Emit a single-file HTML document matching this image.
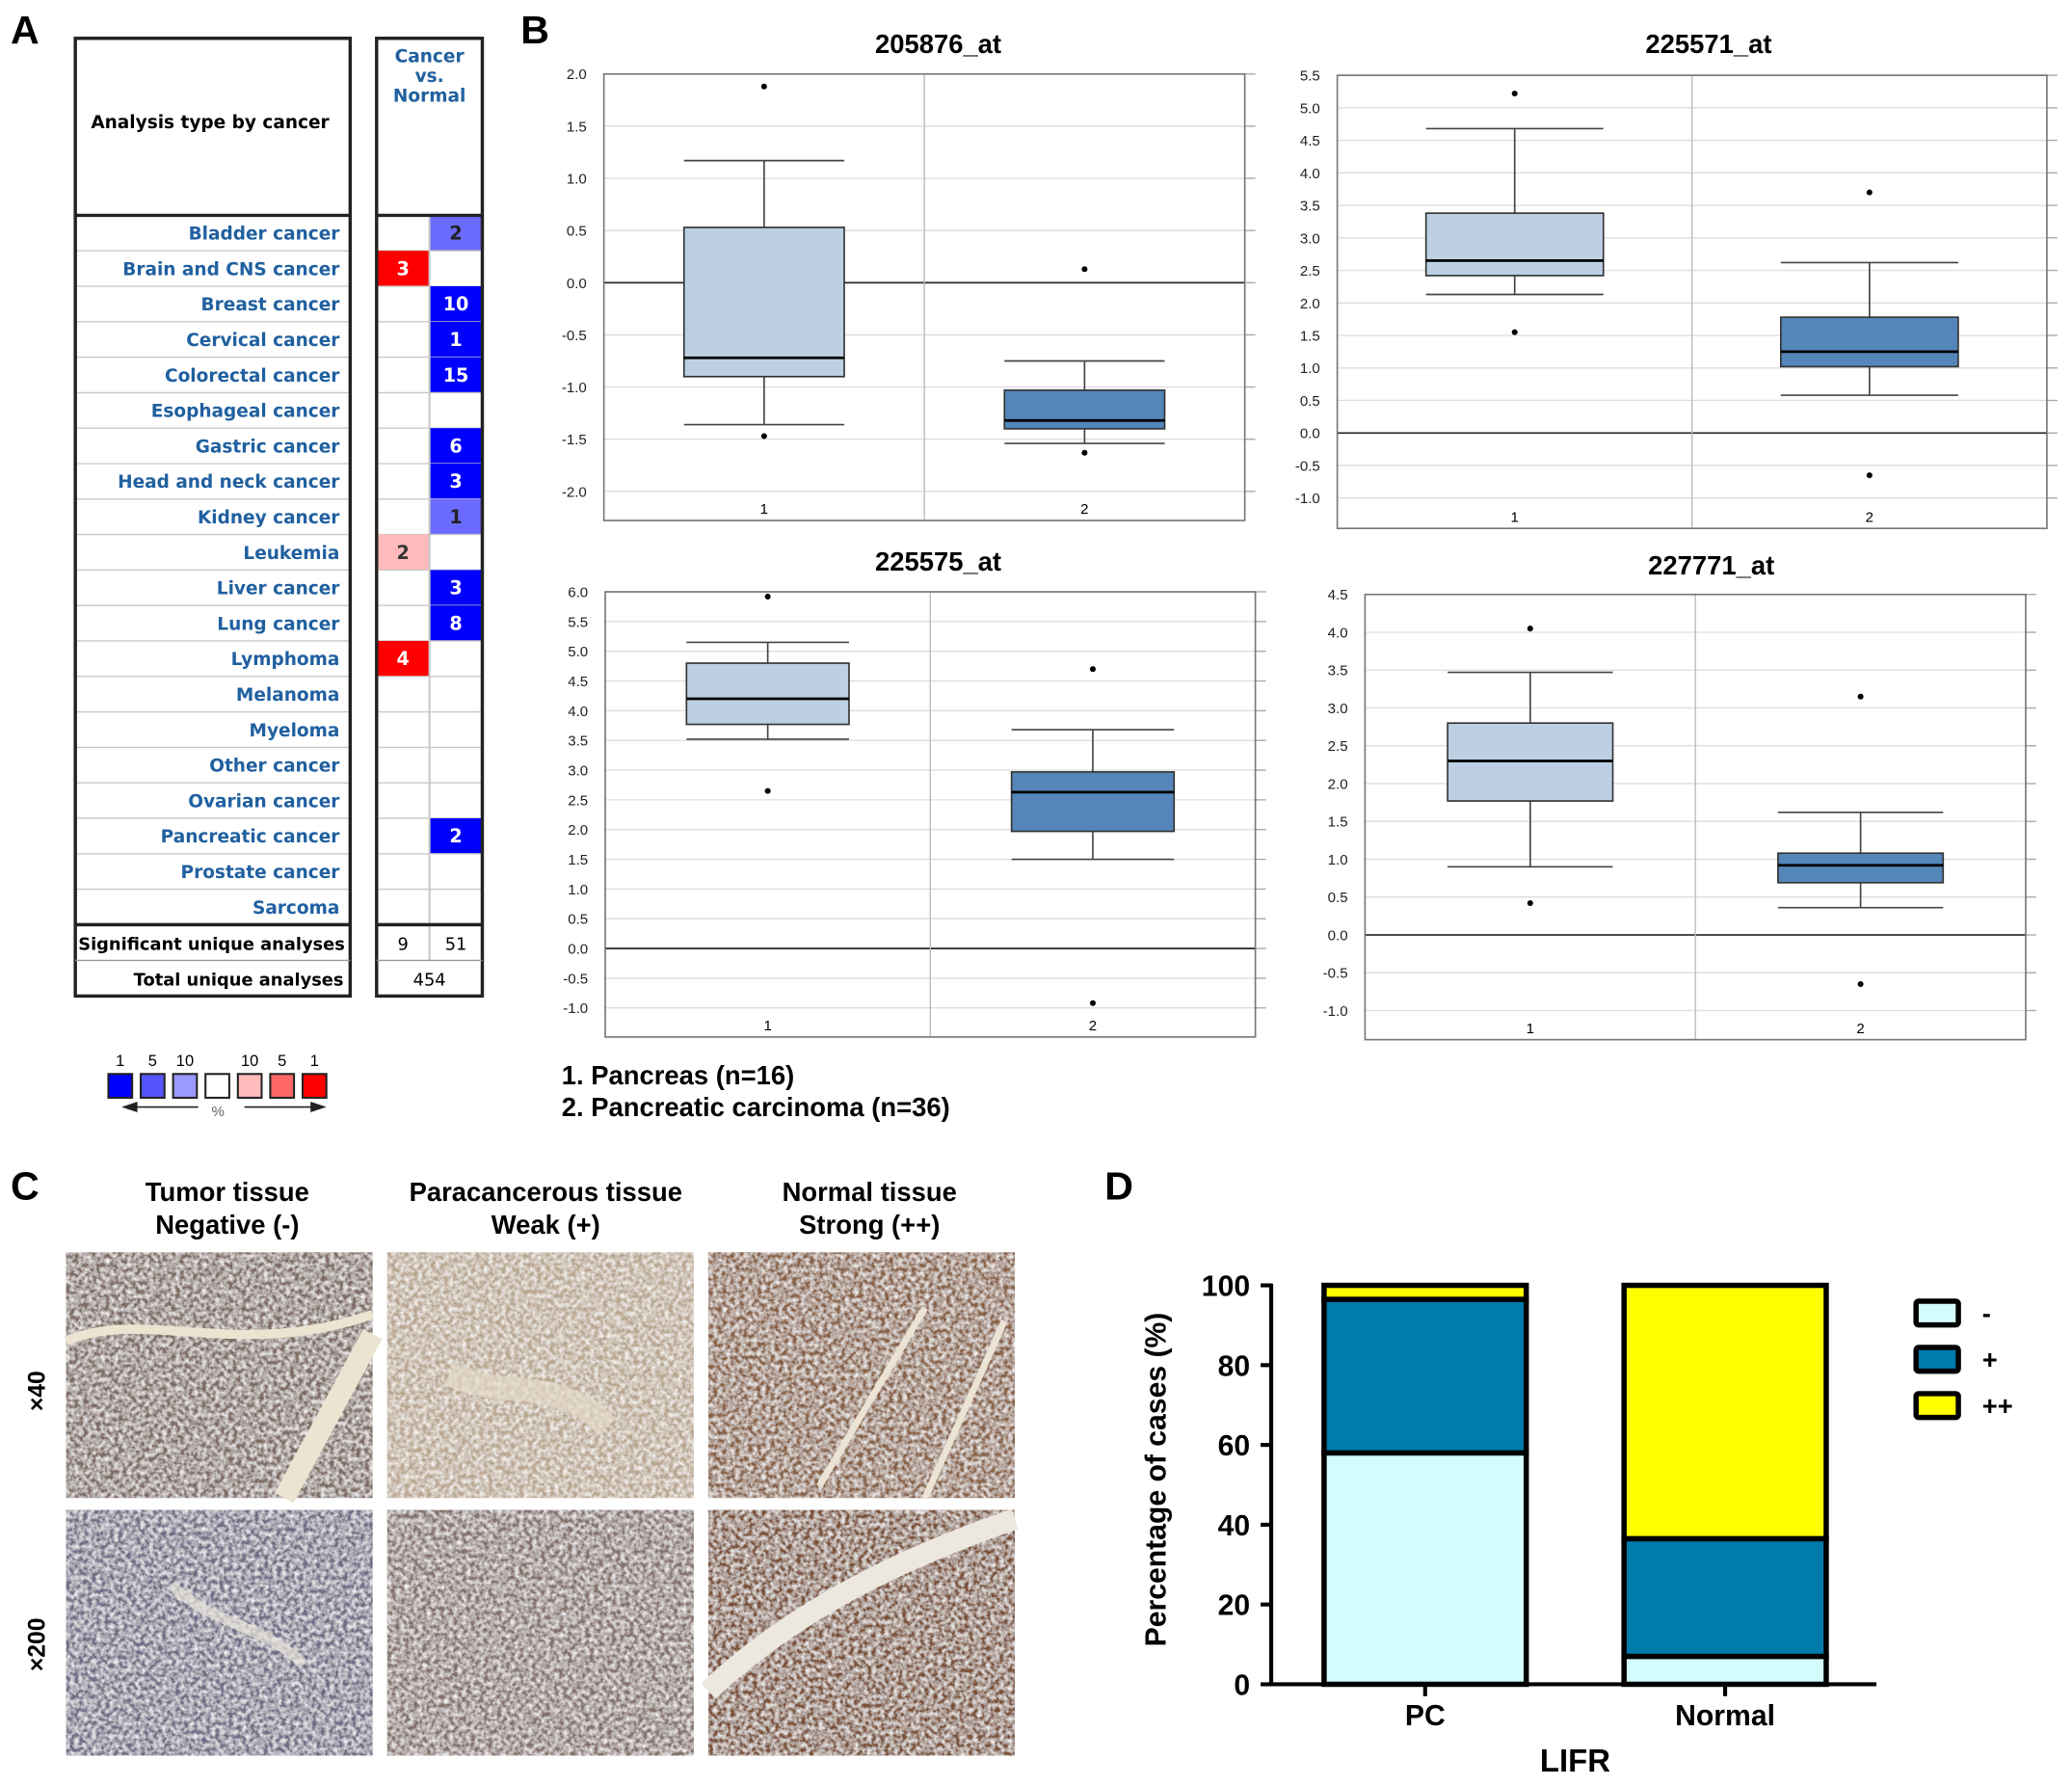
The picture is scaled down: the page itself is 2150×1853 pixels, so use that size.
<!DOCTYPE html>
<html><head><meta charset="utf-8">
<style>
html,body{margin:0;padding:0;background:#fff;}
#root{width:2150px;height:1853px;overflow:hidden;}
svg text{font-family:"Liberation Sans",sans-serif;}
svg text.dv{font-family:"DejaVu Sans","Liberation Sans",sans-serif;}
</style></head>
<body>
<div id="root">
<svg id="fig" width="2150" height="1853" viewBox="0 0 1568 1352" preserveAspectRatio="none" xmlns="http://www.w3.org/2000/svg">
<defs>
<filter id="tex" x="0" y="0" width="100%" height="100%">
<feTurbulence type="fractalNoise" baseFrequency="0.3" numOctaves="2" seed="3" result="n"/>
<feColorMatrix in="n" type="matrix" values="0 0 0 0 1  0 0 0 0 1  0 0 0 0 1  0 0 0 -1.6 1.1" result="m"/>
<feComposite in="m" in2="SourceGraphic" operator="in" result="c"/>
<feBlend in="c" in2="SourceGraphic" mode="screen"/>
</filter>
</defs>
<g id="panelA"></g>
<g id="panelB"></g>
<g id="panelC"></g>
<g id="panelD"></g>
</svg>
</div>
<script>
const NS="http://www.w3.org/2000/svg";
function mk(parent,tag,attrs,text){const e=document.createElementNS(NS,tag);for(const k in attrs)e.setAttribute(k,attrs[k]);if(text!==undefined)e.textContent=text;parent.appendChild(e);return e;}

// ===== Panel A data =====
const cancerTypes=["Bladder cancer","Brain and CNS cancer","Breast cancer","Cervical cancer","Colorectal cancer","Esophageal cancer","Gastric cancer","Head and neck cancer","Kidney cancer","Leukemia","Liver cancer","Lung cancer","Lymphoma","Melanoma","Myeloma","Other cancer","Ovarian cancer","Pancreatic cancer","Prostate cancer","Sarcoma"];
const overValues=[null,3,null,null,null,null,null,null,null,2,null,null,4,null,null,null,null,null,null,null];
const overColors=[null,"#ff0000",null,null,null,null,null,null,null,"#ffbbbb",null,null,"#ff0000",null,null,null,null,null,null,null];
const underValues=[2,null,10,1,15,null,6,3,1,null,3,8,null,null,null,null,null,2,null,null];
const underColors=["#6b6bff",null,"#0000ff","#0000ff","#0000ff",null,"#0000ff","#0000ff","#6b6bff",null,"#0000ff","#0000ff",null,null,null,null,null,"#0000ff",null,null];

(function(){
const g=document.getElementById('panelA');
let t=mk(g,'text',{x:8,y:33,'font-size':30,'font-weight':'bold'},'A');


const top=163,rowH=(700-163)/20;
for(let i=0;i<cancerTypes.length;i++){
  const y=top+i*rowH;
  if(i>0){mk(g,'line',{x1:58,x2:264,y1:y,y2:y,stroke:'#c8c8c8','stroke-width':1});mk(g,'line',{x1:286,x2:364,y1:y,y2:y,stroke:'#c8c8c8','stroke-width':1});}
  const lab=mk(g,'text',{class:'dv',x:257,y:y+rowH/2+5,'font-size':13.5,'font-weight':'bold',fill:'#2060a0','text-anchor':'end'},cancerTypes[i]);
  
  
  if(overValues[i]!==null){
    const r=mk(g,'rect',{x:286,y:y,width:39,height:rowH,fill:overColors[i]});
    
    
    mk(g,'text',{class:'dv',x:305,y:y+rowH/2+5,'font-size':14,'font-weight':'bold',fill:overColors[i]==='#ff0000'?'#fff':'#333','text-anchor':'middle'},overValues[i]);
  }
  if(underValues[i]!==null){
    const r=mk(g,'rect',{x:325,y:y,width:39,height:rowH,fill:underColors[i]});
    
    
    mk(g,'text',{class:'dv',x:345,y:y+rowH/2+5,'font-size':14,'font-weight':'bold',fill:underColors[i]==='#0000ff'?'#fff':'#222','text-anchor':'middle'},underValues[i]);
  }
}
mk(g,'line',{x1:325,x2:325,y1:163,y2:727,stroke:'#c8c8c8','stroke-width':1.5});
mk(g,'rect',{x:57,y:29,width:208,height:725,fill:'none',stroke:'#222','stroke-width':2.5});
mk(g,'rect',{x:285,y:29,width:80,height:725,fill:'none',stroke:'#222','stroke-width':2.5});
[163,700].forEach(y=>{mk(g,'line',{x1:57,x2:265,y1:y,y2:y,stroke:'#222','stroke-width':2.5});mk(g,'line',{x1:285,x2:365,y1:y,y2:y,stroke:'#222','stroke-width':2.5});});
mk(g,'line',{x1:57,x2:265,y1:727,y2:727,stroke:'#999','stroke-width':1});
mk(g,'line',{x1:285,x2:365,y1:727,y2:727,stroke:'#999','stroke-width':1});
t=mk(g,'text',{class:'dv',x:159,y:97,'font-size':13.5,'font-weight':'bold','text-anchor':'middle'},'Analysis type by cancer');

['Cancer','vs.','Normal'].forEach((s,i)=>mk(g,'text',{class:'dv',x:325,y:47+i*15,'font-size':13.5,'font-weight':'bold',fill:'#2060a0','text-anchor':'middle'},s));
mk(g,'text',{class:'dv',x:261,y:719,'font-size':13,'font-weight':'bold','text-anchor':'end'},'Significant unique analyses');
mk(g,'text',{class:'dv',x:260,y:746,'font-size':13,'font-weight':'bold','text-anchor':'end'},'Total unique analyses');
mk(g,'text',{class:'dv',x:305,y:719,'font-size':13,'text-anchor':'middle'},'9');
mk(g,'text',{class:'dv',x:345,y:719,'font-size':13,'text-anchor':'middle'},'51');
mk(g,'text',{class:'dv',x:325,y:746,'font-size':13,'text-anchor':'middle'},'454');
const legCols=["#0000ff","#5555ff","#9999ff","#ffffff","#ffbbbb","#ff6666","#ff0000"];
const legLabs=["1","5","10","","10","5","1"];
legCols.forEach((c,i)=>{const x=82+i*24.5;const r=mk(g,'rect',{x:x,y:813,width:18,height:18,fill:c,stroke:'#222','stroke-width':1.5});

mk(g,'text',{x:x+9,y:807,'font-size':12,'text-anchor':'middle'},legLabs[i]);});
mk(g,'line',{x1:100,x2:150,y1:838,y2:838,stroke:'#222','stroke-width':1.2});
mk(g,'path',{d:'M92 838 L104 834 L104 842Z',fill:'#222'});
mk(g,'line',{x1:185,x2:238,y1:838,y2:838,stroke:'#222','stroke-width':1.2});
mk(g,'path',{d:'M247 838 L235 834 L235 842Z',fill:'#222'});
mk(g,'text',{x:165,y:845,'font-size':11,'text-anchor':'middle',fill:'#666'},'%');
})();

// ===== Panel B data =====
const probeTitles=["205876_at","225571_at","225575_at","227771_at"];
const groupLabels=["1","2"];
const whiskHi=[[1.17,-0.75],[4.68,2.62],[5.15,3.68],[3.47,1.62]];
const q3=[[0.53,-1.03],[3.38,1.78],[4.8,2.97],[2.8,1.08]];
const medians=[[-0.72,-1.32],[2.65,1.25],[4.2,2.63],[2.3,0.92]];
const q1=[[-0.9,-1.4],[2.42,1.02],[3.77,1.97],[1.77,0.69]];
const whiskLo=[[-1.36,-1.54],[2.13,0.58],[3.52,1.5],[0.9,0.36]];
const outHi=[[1.88,0.13],[5.22,3.7],[5.92,4.7],[4.05,3.15]];
const outLo=[[-1.47,-1.63],[1.55,-0.65],[2.65,-0.92],[0.42,-0.65]];
const yTickMax=[2.0,5.5,6.0,4.5];
const yTickMin=[-2.0,-1.0,-1.0,-1.0];

(function(){
const g=document.getElementById('panelB');
let t=mk(g,'text',{x:394,y:33,'font-size':30,'font-weight':'bold'},'B');

const layouts=[
 {x0:457,x1:942,top:56,bot:394,yMaxPx:56,yMinPx:372,tx:710,ty:40},
 {x0:1012,x1:1549,top:57,bot:400,yMaxPx:57,yMinPx:377,tx:1293,ty:40},
 {x0:458,x1:950,top:448,bot:785,yMaxPx:448,yMinPx:763,tx:710,ty:432},
 {x0:1033,x1:1533,top:450,bot:787,yMaxPx:450,yMinPx:765,tx:1295,ty:435}];
layouts.forEach((L,c)=>{
  const cg=mk(g,'g',{});
  
  
  const ys=v=>L.yMaxPx+(yTickMax[c]-v)/(yTickMax[c]-yTickMin[c])*(L.yMinPx-L.yMaxPx);
  const w=L.x1-L.x0;
  const xs=i=>L.x0+w*(i+0.5)/2;
  const bh=w*0.125;
  const tt=mk(cg,'text',{x:L.tx,y:L.ty,'font-size':20,'font-weight':'bold','text-anchor':'middle'},probeTitles[c]);
  
  for(let v=yTickMin[c];v<=yTickMax[c]+1e-6;v+=0.5){
    const y=ys(v);
    mk(cg,'line',{x1:L.x0,x2:L.x1,y1:y,y2:y,stroke:Math.abs(v)<1e-6?'#333':'#ddd','stroke-width':Math.abs(v)<1e-6?1.3:1});
    mk(cg,'line',{x1:L.x1,x2:L.x1+8,y1:y,y2:y,stroke:'#aaa','stroke-width':1});
    const lt=mk(cg,'text',{x:L.x0-13,y:y+4,'font-size':11,'text-anchor':'end',fill:'#222'},v.toFixed(1));
    
  }
  mk(cg,'line',{x1:(L.x0+L.x1)/2,x2:(L.x0+L.x1)/2,y1:L.top,y2:L.bot,stroke:'#bbb','stroke-width':1});
  mk(cg,'rect',{x:L.x0,y:L.top,width:w,height:L.bot-L.top,fill:'none',stroke:'#777','stroke-width':1.2});
  for(let i=0;i<2;i++){
    const x=xs(i);const fill=i===0?'#bccfe3':'#5486b9';
    mk(cg,'line',{x1:x,x2:x,y1:ys(whiskHi[c][i]),y2:ys(q3[c][i]),stroke:'#444','stroke-width':1.2});
    mk(cg,'line',{x1:x,x2:x,y1:ys(q1[c][i]),y2:ys(whiskLo[c][i]),stroke:'#444','stroke-width':1.2});
    mk(cg,'line',{x1:x-bh,x2:x+bh,y1:ys(whiskHi[c][i]),y2:ys(whiskHi[c][i]),stroke:'#444','stroke-width':1.2});
    mk(cg,'line',{x1:x-bh,x2:x+bh,y1:ys(whiskLo[c][i]),y2:ys(whiskLo[c][i]),stroke:'#444','stroke-width':1.2});
    const b=mk(cg,'rect',{x:x-bh,y:ys(q3[c][i]),width:2*bh,height:ys(q1[c][i])-ys(q3[c][i]),fill:fill,stroke:'#333','stroke-width':1.2});
    
    mk(cg,'line',{x1:x-bh,x2:x+bh,y1:ys(medians[c][i]),y2:ys(medians[c][i]),stroke:'#000','stroke-width':2});
    mk(cg,'circle',{cx:x,cy:ys(outHi[c][i]),r:2.2,fill:'#000'});
    mk(cg,'circle',{cx:x,cy:ys(outLo[c][i]),r:2.2,fill:'#000'});
    mk(cg,'text',{x:x,y:L.bot-5,'font-size':11,'text-anchor':'middle'},groupLabels[i]);
  }
});
t=mk(g,'text',{x:425,y:821,'font-size':20,'font-weight':'bold'},'1. Pancreas (n=16)');

t=mk(g,'text',{x:425,y:845,'font-size':20,'font-weight':'bold'},'2. Pancreatic carcinoma (n=36)');

})();

// ===== Panel C =====
(function(){
const g=document.getElementById('panelC');
let t=mk(g,'text',{x:8,y:908,'font-size':30,'font-weight':'bold'},'C');

const heads=[["Tumor tissue","Negative (-)"],["Paracancerous tissue","Weak (+)"],["Normal tissue","Strong (++)"]];
const cx=[172,413,658];
heads.forEach((h,i)=>{mk(g,'text',{x:cx[i],y:909,'font-size':20,'font-weight':'bold','text-anchor':'middle'},h[0]);mk(g,'text',{x:cx[i],y:934,'font-size':20,'font-weight':'bold','text-anchor':'middle'},h[1]);});
const xs=[50,293,536],ys=[948,1143];
const cols=[["#7d6a62","#b8a58e","#875f42"],["#6e6c84","#83706a","#7a5034"]];
for(let r=0;r<2;r++)for(let c=0;c<3;c++){
  const im=mk(g,'rect',{x:xs[c],y:ys[r],width:232,height:186,fill:cols[r][c],filter:'url(#tex)'});
  
}
mk(g,'path',{d:'M50 1015 C110 990 180 1030 282 995',stroke:'#ece4d0','stroke-width':7,fill:'none'});
mk(g,'path',{d:'M282 1010 L215 1134',stroke:'#ece4d0','stroke-width':16,fill:'none'});
mk(g,'path',{d:'M620 1125 L700 990 M700 1134 L760 1000',stroke:'#ebe3d4','stroke-width':5,fill:'none'});
mk(g,'path',{d:'M536 1280 C600 1220 680 1180 768 1150',stroke:'#ece8e0','stroke-width':16,fill:'none'});
mk(g,'path',{d:'M340 1040 C380 1060 420 1040 460 1080',stroke:'#e4dac8','stroke-width':18,fill:'none',opacity:0.7});
mk(g,'path',{d:'M130 1200 C160 1230 200 1230 230 1260',stroke:'#e8e4dc','stroke-width':8,fill:'none',opacity:0.7});
t=mk(g,'text',{x:0,y:0,'font-size':18,'font-weight':'bold','text-anchor':'middle',transform:'translate(34,1053) rotate(-90)'},'×40');
t=mk(g,'text',{x:0,y:0,'font-size':18,'font-weight':'bold','text-anchor':'middle',transform:'translate(34,1245) rotate(-90)'},'×200');
})();

// ===== Panel D data =====
const dCategories=["PC","Normal"];
const negPct=[58,7];
const posPct=[38.5,29.5];
const strongPct=[3.5,63.5];
const dTicks=[0,20,40,60,80,100];
(function(){
const g=document.getElementById('panelD');
let t=mk(g,'text',{x:836,y:908,'font-size':30,'font-weight':'bold'},'D');

const y0=1275,y100=973;const ys=v=>y0-(v/100)*(y0-y100);
const barX=[1002,1229],bw=153;
dTicks.forEach(v=>{mk(g,'line',{x1:954,x2:963,y1:ys(v),y2:ys(v),stroke:'#000','stroke-width':3});
const lt=mk(g,'text',{x:946,y:ys(v)+8,'font-size':22,'font-weight':'bold','text-anchor':'end'},v);
});
const series=[negPct,posPct,strongPct],colors=['#d4fcfc','#007bab','#ffff00'],names=['neg','pos','strong'];
for(let i=0;i<2;i++){
  let base=0;
  for(let s=0;s<3;s++){
    const v=series[s][i];
    const r=mk(g,'rect',{x:barX[i],y:ys(base+v),width:bw,height:ys(base)-ys(base+v),fill:colors[s],stroke:'#000','stroke-width':4});
    
    
    base+=v;
  }
  mk(g,'line',{x1:barX[i]+bw/2,x2:barX[i]+bw/2,y1:y0,y2:y0+9,stroke:'#000','stroke-width':3});
  const xl=mk(g,'text',{x:barX[i]+bw/2,y:1306,'font-size':22,'font-weight':'bold','text-anchor':'middle'},dCategories[i]);
  
}
mk(g,'line',{x1:962,x2:962,y1:972,y2:1276,stroke:'#000','stroke-width':3});
mk(g,'line',{x1:961,x2:1420,y1:1275,y2:1275,stroke:'#000','stroke-width':3});
t=mk(g,'text',{x:1192,y:1341,'font-size':24,'font-weight':'bold','text-anchor':'middle'},'LIFR');

t=mk(g,'text',{x:0,y:0,'font-size':22,'font-weight':'bold','text-anchor':'middle',transform:'translate(882,1120) rotate(-90)'},'Percentage of cases (%)');

const labs=['-','+','++'];
for(let s=0;s<3;s++){
  const y=985+s*35;
  const r=mk(g,'rect',{x:1450,y:y,width:32,height:18,fill:colors[s],stroke:'#000','stroke-width':4,rx:2});
  
  mk(g,'text',{x:1500,y:y+16,'font-size':20,'font-weight':'bold'},labs[s]);
}
})();
</script>
</body></html>
